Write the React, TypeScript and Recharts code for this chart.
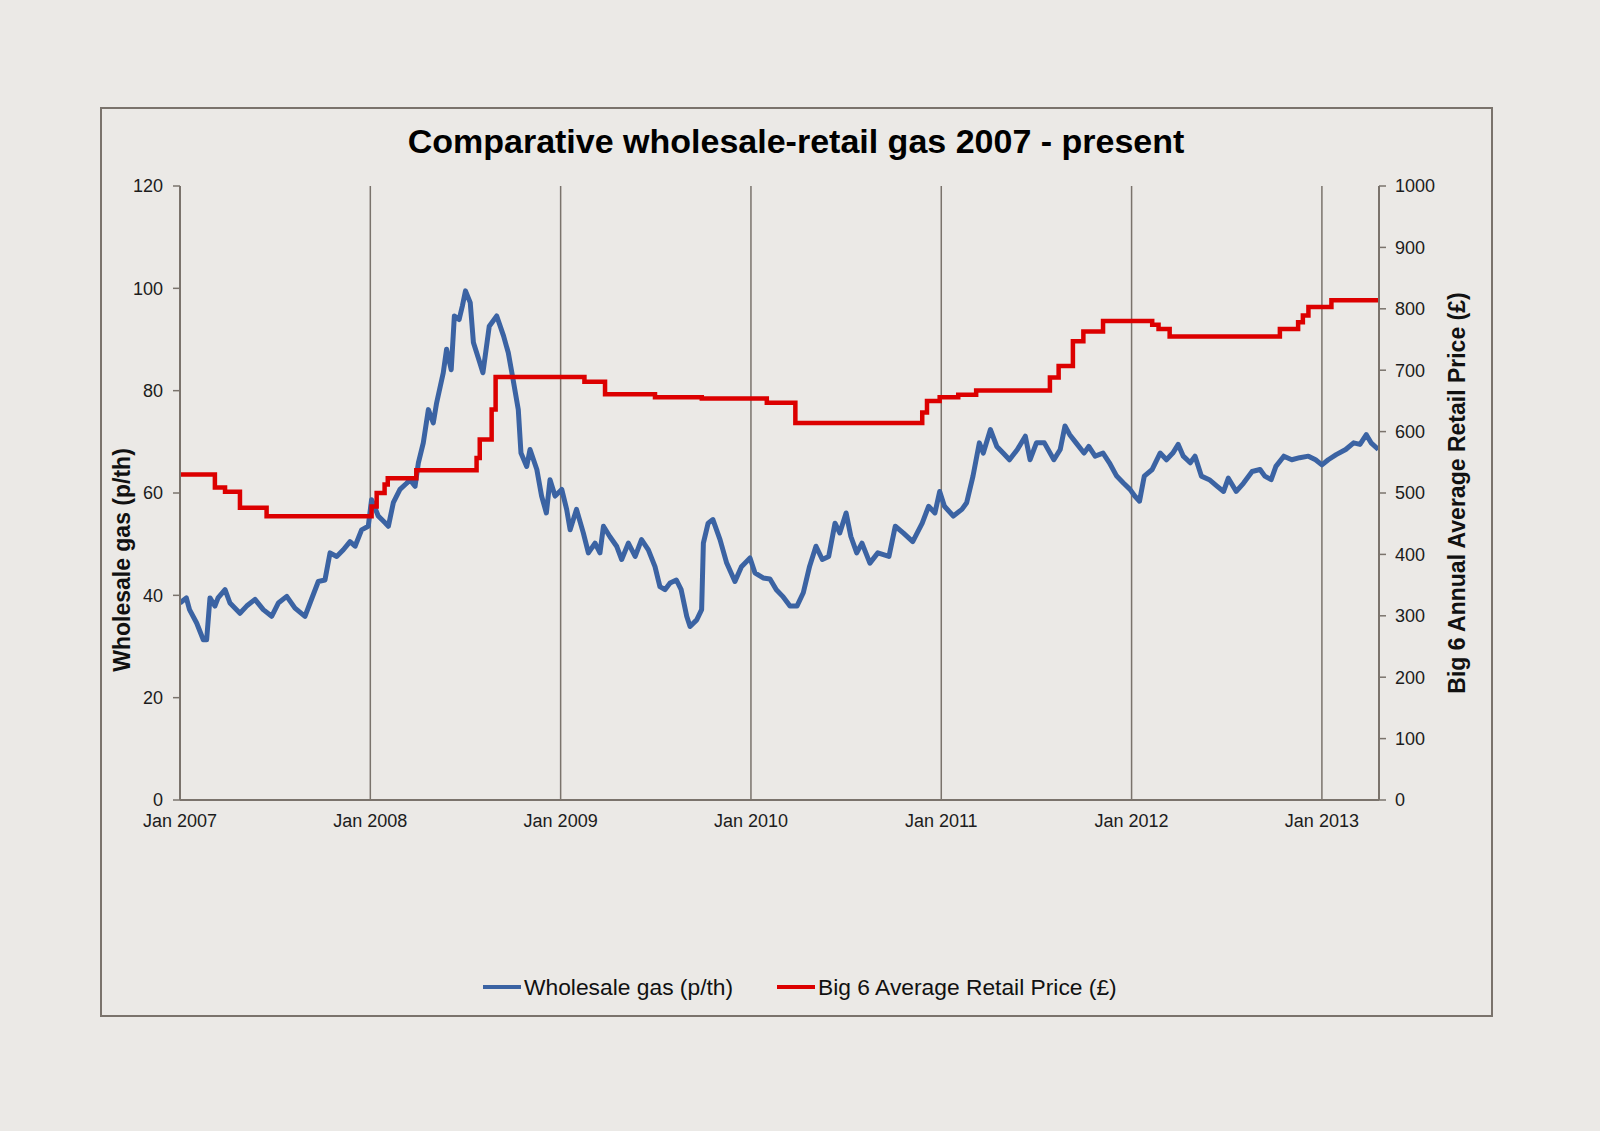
import { LineChart, Line, XAxis, YAxis, CartesianGrid } from "recharts";

const FONT = '"Liberation Sans", Arial, sans-serif';
const BLUE = "#3b63a3";
const RED = "#dc0000";
const AXIS = "#7a736c";
const INK = "#1c1c1c";
const PAPER = "#ebe9e6";

// x values are months counted from Jan 2007
const gasMonths = [
  0, 0.4, 0.6, 1.05, 1.47, 1.68, 1.89, 2.2, 2.4, 2.84, 3.15, 3.78, 4.2, 4.73, 5.25, 5.78,
  6.2, 6.73, 7.25, 7.88, 8.2, 8.72, 9.14, 9.46, 9.88, 10.3, 10.72, 11.04, 11.45, 11.87,
  12.08, 12.5, 12.93, 13.14, 13.45, 13.87, 14.29, 14.5, 14.82, 15.03, 15.34, 15.66, 15.97,
  16.18, 16.6, 16.81, 17.1, 17.3, 17.6, 17.8, 18.0, 18.3, 18.5, 18.9, 19.1, 19.5, 19.97,
  20.4, 20.7, 21.0, 21.33, 21.5, 21.86, 22.07, 22.5, 22.8, 23.1, 23.33, 23.65, 24.07,
  24.38, 24.6, 25.0, 25.43, 25.75, 26.17, 26.48, 26.7, 27.1, 27.53, 27.85, 28.27, 28.7,
  29.1, 29.53, 29.95, 30.26, 30.58, 30.9, 31.3, 31.6, 31.95, 32.16, 32.58, 32.89, 33.0,
  33.3, 33.6, 34.05, 34.47, 34.99, 35.4, 35.94, 36.25, 36.77, 37.2, 37.6, 38.0, 38.46,
  38.9, 39.3, 39.7, 40.1, 40.5, 40.9, 41.3, 41.6, 42.0, 42.3, 42.67, 43.0, 43.5, 44.0,
  44.7, 45.1, 45.6, 46.2, 46.8, 47.2, 47.6, 47.9, 48.2, 48.76, 49.3, 49.6, 50.0, 50.4,
  50.65, 51.1, 51.5, 51.9, 52.3, 52.8, 53.3, 53.6, 54.0, 54.5, 55.1, 55.5, 55.8, 56.1,
  56.5, 57.0, 57.3, 57.7, 58.2, 58.6, 59.06, 59.5, 59.9, 60.2, 60.5, 60.8, 61.3, 61.8,
  62.2, 62.6, 62.94, 63.26, 63.7, 64.0, 64.4, 64.9, 65.4, 65.8, 66.1, 66.6, 67.05, 67.6,
  68.1, 68.4, 68.8, 69.1, 69.6, 70.1, 70.6, 71.15, 71.6, 72.0, 72.4, 72.9, 73.5, 74.0,
  74.4, 74.8, 75.1, 75.56,
];

const gasPrice = [
  38.5, 39.5, 37.2, 34.6, 31.3, 31.3, 39.5, 37.9, 39.5, 41.1, 38.5, 36.5, 37.9, 39.2, 37.2, 35.9,
  38.5, 39.8, 37.5, 35.9, 38.5, 42.7, 43.0, 48.3, 47.6, 48.9, 50.5, 49.6, 52.8, 53.5,
  58.7, 55.5, 54.2, 53.5, 58.1, 60.7, 61.9, 62.6, 61.3, 65.9, 69.8, 76.3, 73.7,
  77.6, 83.5, 88.1, 84.1, 94.6, 93.9, 96.5, 99.5, 97.2, 89.4, 85.5, 83.5, 92.6, 94.6,
  90.7, 87.4, 82.2, 76.3, 67.8, 65.2, 68.5, 64.6, 59.4, 56.1, 62.6, 59.4, 60.7,
  56.8, 52.8, 56.8, 52.2, 48.3, 50.2, 48.3, 53.5, 51.5, 49.6, 47.0, 50.2, 47.6,
  50.9, 48.9, 45.6, 41.7, 41.1, 42.4, 43.0, 41.1, 35.9, 33.9, 35.2, 37.2, 50.2,
  54.1, 54.8, 50.9, 46.3, 42.7, 45.6, 47.3, 44.4, 43.4, 43.2, 41.1, 39.8, 37.9,
  37.9, 40.5, 45.7, 49.6, 47.0, 47.6, 54.1, 52.2, 56.1, 51.5, 48.3, 50.2, 46.3, 48.3,
  47.6, 53.5, 52.2, 50.5, 54.1, 57.4, 56.1, 60.3, 57.4, 55.5, 56.8, 58.1, 63.3, 69.8,
  67.8, 72.4, 69.1, 67.8, 66.5, 68.5, 71.1, 66.5, 69.8, 69.8, 66.5, 68.5, 73.1, 71.4,
  69.8, 67.8, 69.1, 67.2, 67.8, 65.9, 63.3, 61.9, 60.7, 59.4, 58.4, 63.3, 64.6, 67.8,
  66.5, 67.8, 69.5, 67.2, 65.9, 67.2, 63.3, 62.6, 61.3, 60.3, 62.9, 60.3, 61.9, 64.2,
  64.6, 63.3, 62.6, 65.2, 67.2, 66.5, 66.9, 67.2, 66.5, 65.5, 66.5, 67.5, 68.5, 69.8,
  69.5, 71.4, 69.8, 68.5,
];

// retail tariff: month each price level starts, and the level in £
const retailFrom = [
  0, 2.2, 2.84, 3.78, 5.46, 12.08, 12.4, 12.9, 13.1, 14.9, 18.7, 18.9, 19.65, 19.9, 25.5,
  26.8, 29.95, 32.9, 37.0, 38.8, 46.8, 47.1, 47.9, 49.07, 50.2, 54.85, 55.4, 56.3, 56.96,
  58.2, 61.3, 61.7, 62.4, 69.35, 70.5, 70.8, 71.15, 72.6, 75.6,
];

const retailPrice = [
  530, 509, 502, 476, 462, 478, 500, 514, 524, 537, 557, 587, 636, 689, 681,
  661, 656, 654, 647, 614, 631, 650, 656, 660, 667, 688, 707, 747, 763,
  780, 774, 767, 755, 767, 778, 789, 803, 814, 814,
];

const yearTicks = [0, 12, 24, 36, 48, 60, 72];
const yearLabels = ["Jan 2007", "Jan 2008", "Jan 2009", "Jan 2010", "Jan 2011", "Jan 2012", "Jan 2013"];
const gasTicks = [0, 20, 40, 60, 80, 100, 120];
const retailTicks = [0, 100, 200, 300, 400, 500, 600, 700, 800, 900, 1000];

const series = [
  { name: "Wholesale gas (p/th)", color: BLUE },
  { name: "Big 6 Average Retail Price (£)", color: RED },
];

const gasData = gasMonths.map((m, i) => ({ m, gas: gasPrice[i] }));
const retailData = retailFrom.map((m, i) => ({ m, retail: retailPrice[i] }));

const tickStyle = { fill: INK, fontSize: 18, fontFamily: FONT };

function SideTitle({ text, x, y }: { text: string; x: number; y: number }) {
  return (
    <div
      style={{
        position: "absolute",
        left: x,
        top: y,
        transform: "translate(-50%, -50%) rotate(-90deg)",
        whiteSpace: "nowrap",
        fontFamily: FONT,
        fontWeight: "bold",
        fontSize: 23,
        lineHeight: 1,
        color: "#111",
      }}
    >
      {text}
    </div>
  );
}

export default function App() {
  return (
    <div
      style={{
        position: "absolute",
        left: 0,
        top: 0,
        width: 1600,
        height: 1131,
        background: PAPER,
        overflow: "hidden",
      }}
    >
      <div
        style={{
          position: "absolute",
          left: 100,
          top: 107,
          width: 1389,
          height: 906,
          border: `2px solid ${AXIS}`,
        }}
      />

      <div
        style={{
          position: "absolute",
          left: 0,
          width: 1592,
          top: 124,
          textAlign: "center",
          fontFamily: FONT,
          fontWeight: "bold",
          fontSize: 34,
          lineHeight: 1,
          color: "#000",
        }}
      >
        Comparative wholesale-retail gas 2007 - present
      </div>

      <div style={{ position: "absolute", left: 0, top: 0 }}>
        <LineChart width={1600} height={1131} margin={{ top: 186, right: 161, bottom: 301, left: 120 }}>
          <CartesianGrid horizontal={false} stroke={AXIS} strokeWidth={1.5} />
          <XAxis
            dataKey="m"
            type="number"
            domain={[0, 75.6]}
            allowDataOverflow
            ticks={yearTicks}
            tickFormatter={(v) => yearLabels[yearTicks.indexOf(v)]}
            tick={tickStyle}
            tickLine={false}
            tickSize={6}
            tickMargin={8}
            height={30}
            axisLine={{ stroke: AXIS, strokeWidth: 2 }}
          />
          <YAxis
            yAxisId="left"
            domain={[0, 120]}
            ticks={gasTicks}
            tick={tickStyle}
            tickSize={7}
            tickMargin={10}
            width={60}
            axisLine={{ stroke: AXIS, strokeWidth: 2 }}
            tickLine={{ stroke: AXIS, strokeWidth: 1.5 }}
          />
          <YAxis
            yAxisId="right"
            orientation="right"
            domain={[0, 1000]}
            ticks={retailTicks}
            tick={tickStyle}
            tickSize={7}
            tickMargin={9}
            width={60}
            axisLine={{ stroke: AXIS, strokeWidth: 2 }}
            tickLine={{ stroke: AXIS, strokeWidth: 1.5 }}
          />
          <Line
            yAxisId="left"
            data={gasData}
            dataKey="gas"
            type="linear"
            stroke={BLUE}
            strokeWidth={5}
            strokeLinejoin="round"
            dot={false}
            isAnimationActive={false}
          />
          <Line
            yAxisId="right"
            data={retailData}
            dataKey="retail"
            type="stepAfter"
            stroke={RED}
            strokeWidth={4.5}
            dot={false}
            isAnimationActive={false}
          />
        </LineChart>
      </div>

      <SideTitle text="Wholesale gas (p/th)" x={122} y={560} />
      <SideTitle text="Big 6 Annual Average Retail Price (£)" x={1457} y={493} />

      <div
        style={{
          position: "absolute",
          left: 483,
          top: 976,
          display: "flex",
          alignItems: "center",
          gap: 44,
          fontFamily: FONT,
          fontSize: 22.8,
          lineHeight: 1,
          color: "#111",
        }}
      >
        {series.map((s) => (
          <div key={s.name} style={{ display: "flex", alignItems: "center", gap: 3 }}>
            <div style={{ width: 38, height: 4, background: s.color }} />
            <span style={{ whiteSpace: "nowrap" }}>{s.name}</span>
          </div>
        ))}
      </div>
    </div>
  );
}
